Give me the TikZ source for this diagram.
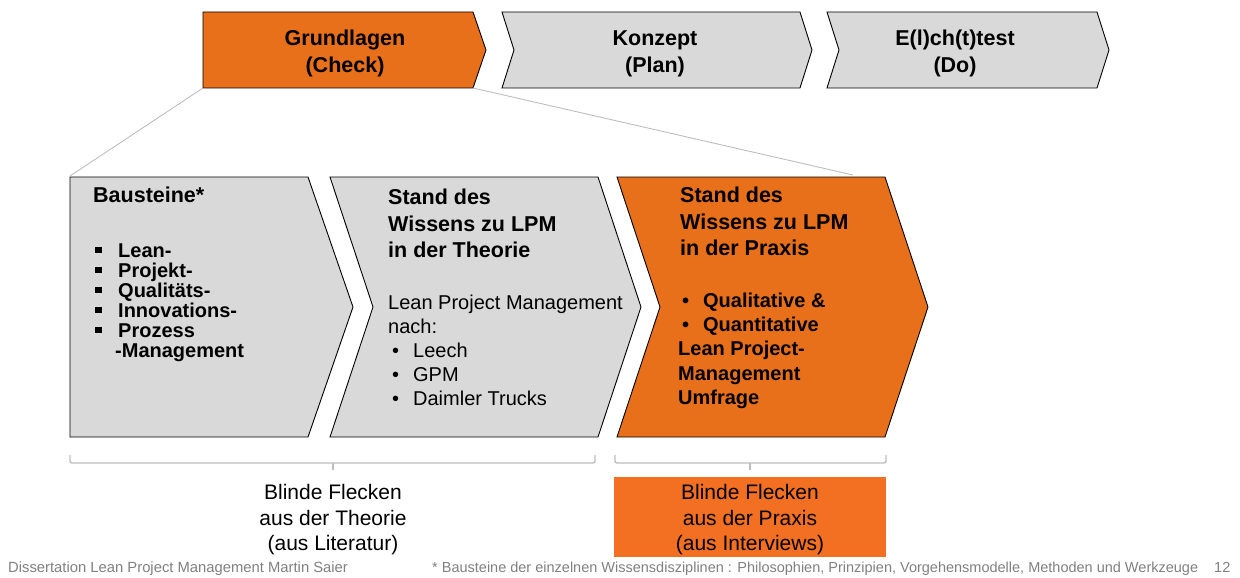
\documentclass[tikz,border=0pt]{standalone}
\usepackage{fontspec}
\setmainfont{Liberation Sans}
\definecolor{chevgray}{HTML}{D9D9D9}
\definecolor{chevorange}{HTML}{E8701A}
\definecolor{boxorange}{HTML}{F37022}
\definecolor{linegray}{HTML}{BDBDBD}
\definecolor{footgray}{HTML}{808080}
\newcommand\tl{\rule{0pt}{0.8em}}
\newcommand\sq{\makebox[23pt][l]{\rule[3.9pt]{6.8pt}{6.8pt}}}
\newcommand\bl{\hspace{4pt}\makebox[21pt][l]{\textbullet}}
\begin{document}
\begin{tikzpicture}[x=1pt,y=-1pt,
  chev/.style={draw=black, line width=0.9pt, line join=miter},
  grayc/.style={chev, fill=chevgray},
  orangec/.style={chev, fill=chevorange},
  txt/.style={inner sep=0pt, anchor=north west, align=left},
  head/.style={txt, font={\fontsize{21.5}{26.5}\selectfont\bfseries}},
  tophead/.style={inner sep=0pt, anchor=north, align=center, font={\fontsize{21.5}{27}\selectfont\bfseries}},
  body/.style={txt, font={\fontsize{20}{24}\selectfont}},
  bbody/.style={txt, font={\fontsize{20}{24.3}\selectfont\bfseries}},
  blind/.style={inner sep=0pt, anchor=north, align=center, font={\fontsize{21}{25.5}\selectfont}},
  zoomline/.style={draw=linegray, line width=0.9pt},
  bracket/.style={draw=linegray, line width=1.4pt, rounded corners=2pt},
  tick/.style={draw=linegray, line width=1.4pt},
  foot/.style={inner sep=0pt, anchor=base west, text=footgray, font={\fontsize{14.8}{16}\selectfont}},
  footr/.style={foot, font={\fontsize{14.5}{16}\selectfont}}
]
\useasboundingbox (0,0) rectangle (1240,578);

% top chevrons
\draw[orangec] (203,12) -- (473,12) -- (486,50) -- (473,88) -- (203,88) -- cycle;
\draw[grayc] (502,12) -- (800,12) -- (812,50) -- (800,88) -- (502,88) -- (514,50) -- cycle;
\draw[grayc] (827,12) -- (1097,12) -- (1109,50) -- (1097,88) -- (827,88) -- (839,50) -- cycle;
\coordinate (c1bl) at (203,88);
\coordinate (c1br) at (473,88);

\node[tophead] (t1) at (345,28.5) {\tl Grundlagen\\(Check)};
\node[tophead] (t2) at (655,28.5) {\tl Konzept\\(Plan)};
\node[tophead] (t3) at (955,28.5) {\tl E(l)ch(t)test\\(Do)};

% bottom chevrons
\draw[grayc] (70,177) -- (308,177) -- (353,307) -- (308,437) -- (70,437) -- cycle;
\draw[grayc] (330,177) -- (598,177) -- (641,307) -- (598,437) -- (330,437) -- (373,307) -- cycle;
\draw[orangec] (617,177) -- (885,177) -- (928,307) -- (885,437) -- (617,437) -- (660,307) -- cycle;
\coordinate (b1tl) at (70,176);
\coordinate (b3tr) at (853,175);

% zoom lines
\draw[zoomline] (c1bl) -- (b1tl);
\draw[zoomline] (c1br) -- (b3tr);

% box 1 text
\node[head] (h1) at (93,185.5) {\tl Bausteine*};
\node[txt, font={\fontsize{20}{20}\selectfont\bfseries}] (l1) at (95,241) {\tl\sq Lean-\\\sq Projekt-\\\sq Qualitäts-\\\sq Innovations-\\\sq Prozess\\\hspace{20pt}-Management};

% box 2 text
\node[head] (h2) at (388,187.5) {\tl Stand des\\Wissens zu LPM\\in der Theorie};
\node[body] (l2) at (388,293) {\tl Lean Project Management\\nach:\\\bl Leech\\\bl GPM\\\bl Daimler Trucks};

% box 3 text
\node[head] (h3) at (680,185.5) {\tl Stand des\\Wissens zu LPM\\in der Praxis};
\node[bbody] (l3) at (678,291) {\tl\bl Qualitative \&\\\bl Quantitative\\Lean Project-\\Management\\Umfrage};

% brackets
\draw[bracket] (70,455) -- (70,463) -- (595,463) -- (595,455);
\coordinate (k1a) at (333,463);
\coordinate (k1b) at (333,470);
\draw[tick] (k1a) -- (k1b);
\draw[bracket] (615,455) -- (615,463) -- (886,463) -- (886,455);
\coordinate (k2a) at (750,463);
\coordinate (k2b) at (750,470);
\draw[tick] (k2a) -- (k2b);

% blind spots
\fill[boxorange] (614,477) rectangle (886,557);
\node[blind] (bf1) at (333,482.7) {\tl Blinde Flecken\\aus der Theorie\\(aus Literatur)};
\node[blind] (bf2) at (750,482.7) {\tl Blinde Flecken\\aus der Praxis\\(aus Interviews)};

% footer
\node[foot] (f1) at (8,572) {Dissertation Lean Project Management Martin Saier};
\node[footr] (f2) at (432,572) {* Bausteine der einzelnen Wissensdisziplinen : Philosophien, Prinzipien, Vorgehensmodelle, Methoden und Werkzeuge};
\node[footr] (f3) at (1214,572) {12};
\end{tikzpicture}
\end{document}
